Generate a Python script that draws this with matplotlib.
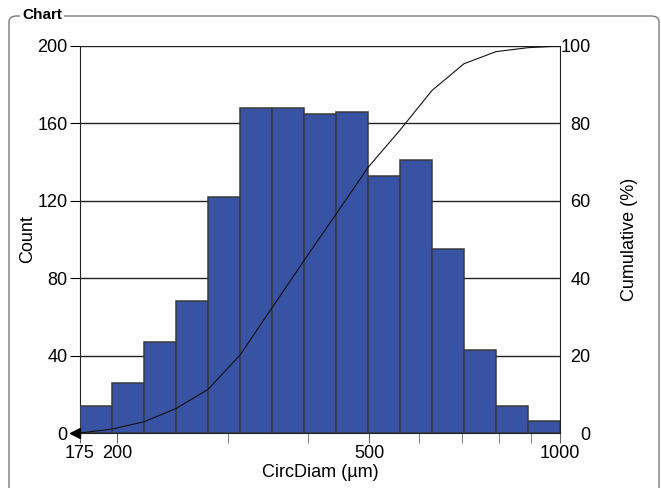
import matplotlib.pyplot as plt
import numpy as np
from matplotlib.patches import FancyBboxPatch
from matplotlib.ticker import FixedLocator, NullFormatter
from matplotlib.transforms import offset_copy

plt.rcParams['font.family'] = ['Liberation Sans', 'DejaVu Sans']

# histogram data (log-spaced bins, 175..1000 um)
x_min, x_max = 175, 1000
counts = [14, 26, 47, 68, 122, 168, 168, 165, 166, 133, 141, 95, 43, 14, 6]
major_ticks = [175, 200, 500, 1000]
minor_ticks = [300, 400, 600, 700, 800, 900]
count_ticks = [0, 40, 80, 120, 160, 200]
cum_ticks = [0, 20, 40, 60, 80, 100]

edges = np.geomspace(x_min, x_max, len(counts) + 1)
cum = np.concatenate([[0], np.cumsum(counts)]) / np.sum(counts) * 100

fig = plt.figure(figsize=(6.61, 4.88), dpi=100)

# group box around the chart
box = FancyBboxPatch((9 / 661, -0.05), 650 / 661, (488 - 16) / 488 + 0.05,
                     boxstyle="round,pad=0,rounding_size=0.012",
                     transform=fig.transFigure, facecolor='none',
                     edgecolor='#7a7a7a', linewidth=1.0, clip_on=False)
fig.patches.append(box)
fig.text(22 / 661, 1 - 15 / 488, 'Chart', fontsize=11, fontweight='bold',
         ha='left', va='center',
         bbox=dict(facecolor='white', edgecolor='none', pad=1.5))

ax = fig.add_axes([80 / 661, 55 / 488, 480 / 661, 387 / 488])
ax.set_xscale('log')
ax.bar(edges[:-1], counts, width=np.diff(edges), align='edge',
       color='#3953a4', edgecolor='#3a3a3a', linewidth=1.1, zorder=3)

ax.set_xlim(x_min, x_max)
ax.set_ylim(0, 200)
ax.set_yticks(count_ticks)
for y in count_ticks[1:]:
    ax.axhline(y, color='#222222', linewidth=1.0, zorder=1)

ax.xaxis.set_major_locator(FixedLocator(major_ticks))
ax.xaxis.set_minor_locator(FixedLocator(minor_ticks))
ax.xaxis.set_minor_formatter(NullFormatter())
ax.set_xticklabels([str(t) for t in major_ticks])
ax.tick_params(axis='x', which='both', length=7, color='#666666',
               labelsize=13, pad=2)
ax.tick_params(axis='y', length=7, labelsize=13, pad=2)

for side in ['top', 'right']:
    ax.spines[side].set_visible(False)
ax.spines['left'].set_color('#222222')
ax.spines['bottom'].set_color('#222222')

ax.set_xlabel('CircDiam (µm)', fontsize=13, labelpad=1)
ax.set_ylabel('Count', fontsize=13, labelpad=1)

# small arrow marker just left of the origin
arrow_tr = offset_copy(ax.transData, fig=fig, x=-3.5, y=0, units='points')
ax.plot([x_min], [0], marker='<', color='black', markersize=7,
        transform=arrow_tr, clip_on=False, zorder=5)

ax2 = ax.twinx()
ax2.plot(edges, cum, color='#111111', linewidth=0.8, zorder=4)
ax2.set_ylim(0, 100)
ax2.set_yticks(cum_ticks)
ax2.tick_params(axis='y', length=0, labelsize=13, pad=22)
for lbl in ax2.get_yticklabels():
    lbl.set_horizontalalignment('right')
for side in ['top', 'left', 'bottom']:
    ax2.spines[side].set_visible(False)
ax2.spines['right'].set_color('#222222')
ax2.set_ylabel('Cumulative (%)', fontsize=13, labelpad=22)

fig.savefig('out.png', dpi=100)
